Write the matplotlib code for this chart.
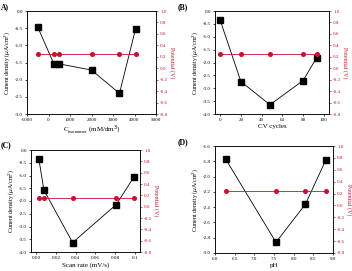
import matplotlib
matplotlib.use("Agg")
from matplotlib import pyplot as plt

plt.rcParams['font.family'] = ['Liberation Serif', 'DejaVu Serif']

# (A) monomer concentration
conc = [-500, 250, 500, 2000, 3300, 4050]
conc_cd = [-0.47, -1.54, -1.54, -1.72, -2.40, -0.52]
conc_pot = [0.25, 0.25, 0.25, 0.25, 0.25, 0.25]

# (B) CV cycles
cycles = [0, 20, 48, 80, 93]
cycles_cd = [-0.36, -2.74, -3.64, -2.70, -1.82]
cycles_pot = [0.24, 0.24, 0.24, 0.24, 0.24]

# (C) scan rate
rate = [0.003, 0.008, 0.037, 0.081, 0.099]
rate_cd = [-0.37, -1.57, -3.63, -2.14, -1.05]
rate_pot = [0.16, 0.16, 0.16, 0.16, 0.16]

# (D) pH
ph = [6.27, 7.55, 8.3, 8.82]
ph_cd = [-1.77, -2.86, -2.36, -1.78]
ph_pot = [0.24, 0.24, 0.24, 0.24]

red = '#c8102e'
W, H = 352.0, 271.0

def box(l, r, t, b):
    return [l / W, 1 - b / H, (r - l) / W, (b - t) / H]

panels = [
    dict(pos=box(27, 156, 11, 114), x=conc, y=conc_cd, p=conc_pot, xlim=(-1000, 5000),
         xt=[-1000, 0, 1000, 2000, 3000, 4000, 5000], xfmt='{:.0f}', ylim=(-3.0, 0.0),
         yt=[0.0, -0.5, -1.0, -1.5, -2.0, -2.5, -3.0], yfmt='{:.1f}',
         xl=r'C$_{\mathregular{monomer}}$ (mM/dm$^3$)', tag='A)', tagxy=(1, 3)),
    dict(pos=box(215, 329, 11, 114), x=cycles, y=cycles_cd, p=cycles_pot, xlim=(-5, 105),
         xt=[0, 20, 40, 60, 80, 100], xfmt='{:.0f}', ylim=(-4.0, 0.0),
         yt=[0.0, -0.5, -1.0, -1.5, -2.0, -2.5, -3.0, -3.5, -4.0], yfmt='{:.1f}',
         xl='CV cycles', tag='(B)', tagxy=(178, 3)),
    dict(pos=box(31, 140, 150, 252), x=rate, y=rate_cd, p=rate_pot, xlim=(-0.005, 0.105),
         xt=[0.0, 0.02, 0.04, 0.06, 0.08, 0.1], xfmt=None, ylim=(-4.0, 0.0),
         yt=[0.0, -0.5, -1.0, -1.5, -2.0, -2.5, -3.0, -3.5, -4.0], yfmt='{:.1f}',
         xl='Scan rate (mV/s)', tag='(C)', tagxy=(1, 141)),
    dict(pos=box(215, 333, 146, 253), x=ph, y=ph_cd, p=ph_pot, xlim=(6.0, 9.0),
         xt=[6.0, 6.5, 7.0, 7.5, 8.0, 8.5, 9.0], xfmt='{:.1f}', ylim=(-3.0, -1.6),
         yt=[-1.6, -1.8, -2.0, -2.2, -2.4, -2.6, -2.8, -3.0], yfmt='{:.1f}',
         xl='pH', tag='(D)', tagxy=(178, 138)),
]

fig = plt.figure(figsize=(3.52, 2.71), dpi=100)
for pn in panels:
    ax = fig.add_axes(pn['pos'])
    ax.plot(pn['x'], pn['y'], color='black', lw=0.6, marker='s', ms=4.0, zorder=3)
    ax.set_xlim(pn['xlim'])
    ax.set_ylim(pn['ylim'])
    ax.set_xticks(pn['xt'])
    if pn['xfmt']:
        ax.set_xticklabels([pn['xfmt'].format(v) for v in pn['xt']])
    else:
        ax.set_xticklabels(['0.00', '0.02', '0.04', '0.06', '0.08', '0.1'])
    ax.set_yticks(pn['yt'])
    ax.set_yticklabels([pn['yfmt'].format(v) for v in pn['yt']])
    ax.tick_params(labelsize=3.6, length=1.5, width=0.5, pad=1.5)
    ax.set_xlabel(pn['xl'], fontsize=5, labelpad=1.5)
    ax.set_ylabel(r'Current density ($\mu$A/cm$^2$)', fontsize=4.3, labelpad=2)
    for s in ax.spines.values():
        s.set_linewidth(0.5)
    ax2 = ax.twinx()
    ax2.plot(pn['x'], pn['p'], color=red, lw=0.6, marker='o', ms=2.6, zorder=2)
    ax2.set_ylim(-0.8, 1.0)
    pt = [1.0, 0.8, 0.6, 0.4, 0.2, 0.0, -0.2, -0.4, -0.6, -0.8]
    ax2.set_yticks(pt)
    ax2.set_yticklabels(['{:.1f}'.format(v) for v in pt])
    ax2.tick_params(labelsize=3.6, length=1.5, width=0.5, pad=1.5, colors=red)
    ax2.set_ylabel('Potential (V)', fontsize=4.3, color=red, rotation=270, labelpad=5)
    for s in ax2.spines.values():
        s.set_linewidth(0.5)
    tx, ty = pn['tagxy']
    fig.text(tx / W, 1 - ty / H, pn['tag'], fontsize=5.5, fontweight='bold',
             va='top', ha='left')

fig.savefig('out.png', dpi=100)
